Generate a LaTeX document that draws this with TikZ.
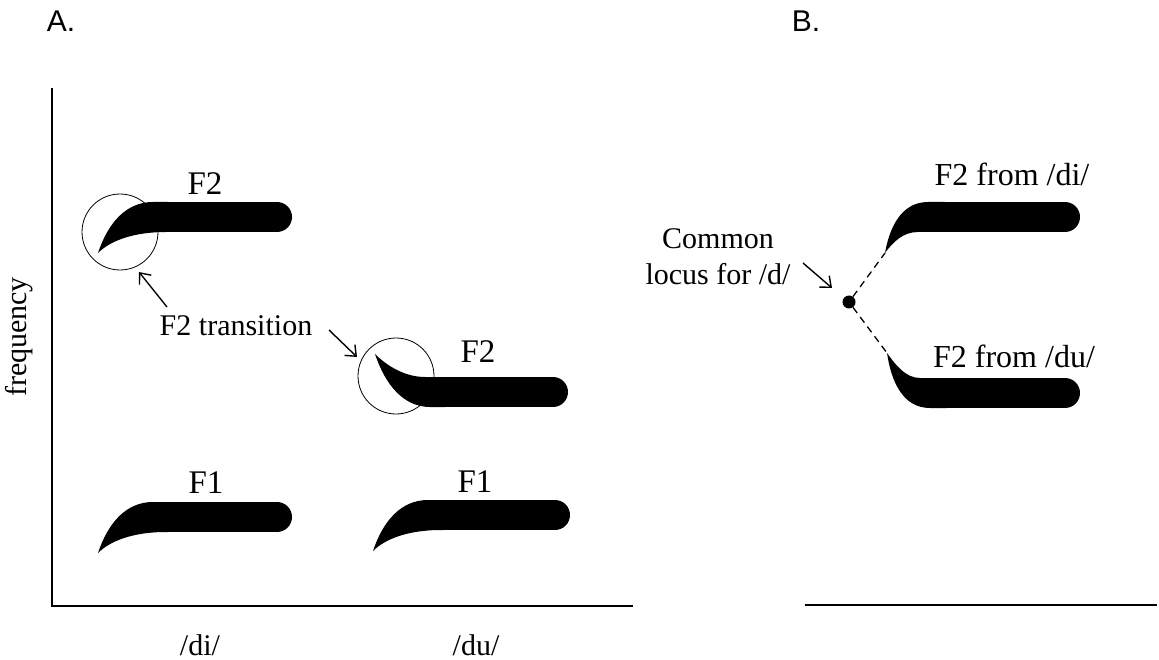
\documentclass[tikz,border=0pt]{standalone}
\usepackage{fontspec}
\setmainfont{Liberation Serif}
\newfontfamily\hdrfont{Liberation Sans}
\usetikzlibrary{arrows.meta}

\begin{document}
\begin{tikzpicture}[
  x=1pt, y=-1pt,
  lbl/.style={inner sep=0pt, font=\fontsize{30}{36}\selectfont},
  flbl/.style={inner sep=0pt, font=\fontsize{33}{40}\selectfont},
  blbl/.style={inner sep=0pt, font=\fontsize{32}{38}\selectfont},
  hdr/.style={inner sep=0pt, font=\hdrfont\fontsize{30}{36}\selectfont},
  axisline/.style={line width=1.8pt},
  ring/.style={circle, draw, line width=0.8pt, minimum size=76pt, inner sep=0pt},
  arr/.style={line width=1.4pt, -{Straight Barb[length=9pt,width=15pt,line width=1.4pt]}},
  dashline/.style={line width=1.3pt, dash pattern=on 7pt off 5pt},
  dot/.style={circle, fill, minimum size=13pt, inner sep=0pt},
  bar/.style={line width=30pt, line cap=round},
  % rising transition, tip at the origin, steady part to the right (#1 = length)
  pics/riseA/.style={code={
    \fill (0,0) .. controls (10,-30) and (28,-51) .. (55,-51) -- (70,-51)
          -- (70,-21) -- (68,-21) .. controls (35,-21) and (12,-12) .. (0,0) -- cycle;
    \draw[bar] (60,-36) -- (#1-15,-36);
  }},
  % falling transition, tip at the origin
  pics/fallA/.style={code={
    \fill (0,0) .. controls (12,12) and (30,23) .. (50,23) -- (70,23)
          -- (70,53) -- (55,53) .. controls (28,53) and (10,30) .. (0,0) -- cycle;
    \draw[bar] (60,38) -- (#1-15,38);
  }},
  pics/riseB/.style={code={
    \fill (0,0) .. controls (4,-23) and (15,-51) .. (43,-51) -- (60,-51)
          -- (60,-21) -- (33,-21) .. controls (18,-21) and (8,-11) .. (0,0) -- cycle;
    \draw[bar] (50,-36) -- (#1-15,-36);
  }},
  pics/fallB/.style={code={
    \fill (0,0) .. controls (8,11) and (18,25) .. (33,25) -- (60,25)
          -- (60,55) -- (43,55) .. controls (15,55) and (4,27) .. (0,0) -- cycle;
    \draw[bar] (50,40) -- (#1-15,40);
  }},
]
\useasboundingbox (0,0) rectangle (1159,660);

% panel headings
\node[hdr, anchor=base] (headA) at (61,32) {A.};
\node[hdr, anchor=base] (headB) at (806,32) {B.};

% axes
\coordinate (yTop) at (52,88);
\coordinate (orig) at (52,606);
\coordinate (xEnd) at (633,606);
\draw[axisline] (yTop) -- (orig) -- (xEnd);
\coordinate (bStart) at (805,605);
\coordinate (bEnd) at (1157,605);
\draw[axisline] (bStart) -- (bEnd);

\node[lbl, rotate=90] (freq) at (19,337) {frequency};
\node[lbl, anchor=base] (di) at (200,655) {/di/};
\node[lbl, anchor=base] (du) at (476,655) {/du/};

% panel A formants
\pic at (98,253) {riseA=194};
\pic at (98,553) {riseA=194};
\pic at (373,551) {riseA=197};
\pic at (375,354) {fallA=193};

\node[flbl, anchor=base] (f2di) at (205,195) {F2};
\node[flbl, anchor=base] (f2du) at (478,362) {F2};
\node[flbl, anchor=base] (f1di) at (206,493) {F1};
\node[flbl, anchor=base] (f1du) at (475,492) {F1};

% transition markers
\node[ring] (ringDi) at (120,232) {};
\node[ring] (ringDu) at (396,376) {};
\node[lbl, anchor=base] (trans) at (236,335) {F2 transition};
\coordinate (t1) at (167,307);
\coordinate (h1) at (139,272);
\coordinate (t2) at (329,330);
\coordinate (h2) at (357,357);
\draw[arr] (t1) -- (h1);
\draw[arr] (t2) -- (h2);

% panel B formants
\coordinate (tipDi) at (885,253);
\coordinate (tipDu) at (887,353);
\pic at (tipDi) {riseB=195};
\pic at (tipDu) {fallB=193};
\node[blbl, anchor=base] (fromDi) at (1012,186) {F2 from /di/};
\node[blbl, anchor=base] (fromDu) at (1014,367) {F2 from /du/};

% common locus
\node[dot] (locus) at (849,302) {};
\draw[dashline] (locus) -- (tipDi);
\draw[dashline] (locus) -- (tipDu);
\node[lbl, anchor=base] (common) at (718,249) {Common};
\node[lbl, anchor=base] (locusTxt) at (718,285) {locus for /d/};
\coordinate (t3) at (803,263);
\coordinate (h3) at (832,288);
\draw[arr] (t3) -- (h3);
\end{tikzpicture}
\end{document}
